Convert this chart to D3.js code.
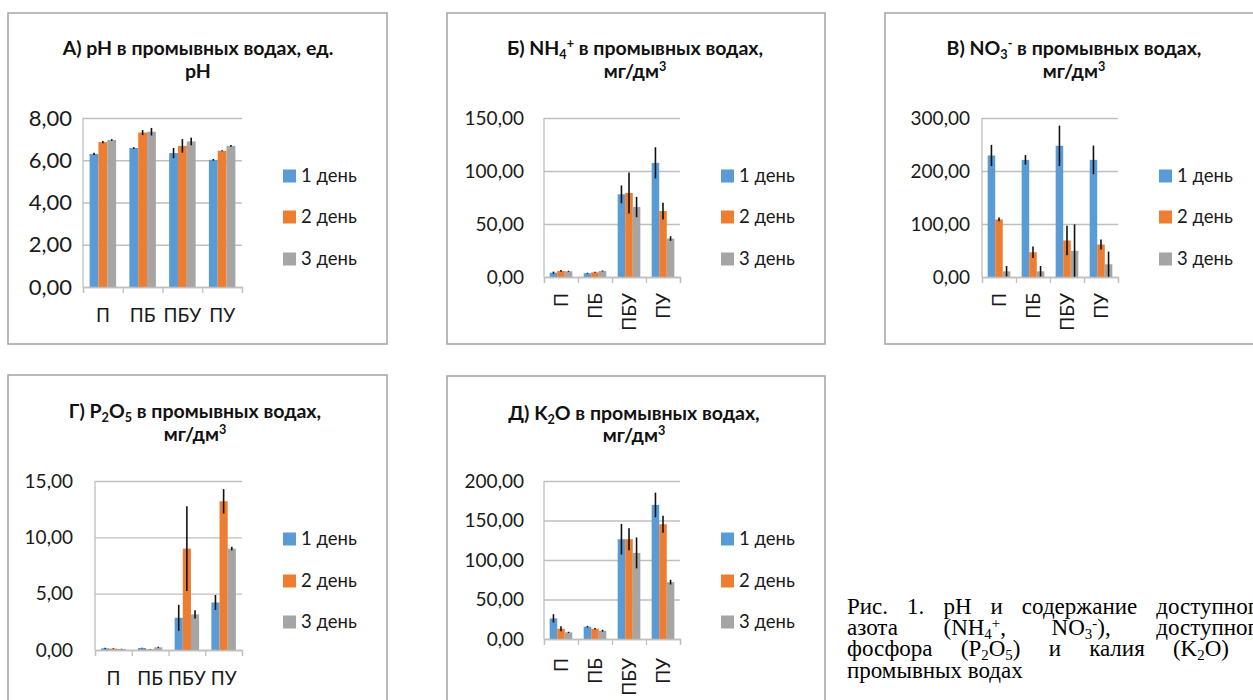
<!DOCTYPE html>
<html>
<head>
<meta charset="utf-8">
<script src="https://cdnjs.cloudflare.com/ajax/libs/d3/7.8.5/d3.min.js"></script>
<style>
  body { margin: 0; background: #fff; width: 1253px; height: 700px; overflow: hidden; position: relative; }
  svg { position: absolute; left: 0; top: 0; }
  .caption { position: absolute; font-family: "Liberation Serif", "Times New Roman", serif; color: #000; }
  .caption div { white-space: nowrap; }
  .caption .j { text-align: justify; text-align-last: justify; }
  .caption sub, .caption sup { font-size: 0.65em; line-height: 0; position: relative; vertical-align: baseline; }
  .caption sub { top: 0.25em; }
  .caption sup { top: -0.45em; }
</style>
</head>
<body>
<script>
// categories + series
var categories = ["П", "ПБ", "ПБУ", "ПУ"];
var days = ["1 день", "2 день", "3 день"];
var colors = ["#5B9BD5", "#ED7D31", "#A5A5A5"];

// А) pH  (rows = day 1..3, cols = categories)
var phMean = [[6.30, 6.58, 6.34, 6.02], [6.86, 7.31, 6.68, 6.45], [6.96, 7.35, 6.89, 6.68]];
var phErr  = [[0.05, 0.04, 0.24, 0.04], [0.05, 0.12, 0.32, 0.02], [0.04, 0.18, 0.18, 0.04]];
var phTicks = [0, 2, 4, 6, 8];

// Б) NH4+
var nh4Mean = [[4.1, 3.5, 78.0, 107.7], [5.7, 4.4, 79.3, 62.2], [5.4, 5.7, 66.0, 36.3]];
var nh4Err  = [[1.0, 0.5, 8.4, 14.7], [0.8, 0.5, 19.3, 7.9], [0.5, 0.5, 9.6, 2.2]];
var nh4Ticks = [0, 50, 100, 150];

// В) NO3-
var no3Mean = [[229.3, 221.0, 247.6, 221.0], [108.6, 46.7, 68.9, 61.3], [10.7, 10.7, 49.3, 24.0]];
var no3Err  = [[20, 9, 38, 27], [3.5, 11, 28, 9.5], [10, 10, 50, 24]];
var no3Ticks = [0, 100, 200, 300];

// Г) P2O5
var p2o5Mean = [[0.15, 0.18, 2.86, 4.22], [0.12, 0.05, 9.0, 13.2], [0.09, 0.24, 3.16, 9.0]];
var p2o5Err  = [[0.05, 0.03, 1.15, 0.66], [0.03, 0.02, 3.76, 1.08], [0.02, 0.05, 0.37, 0.16]];
var p2o5Ticks = [0, 5, 10, 15];

// Д) K2O
var k2oMean = [[26.1, 15.6, 126.3, 169.7], [13.0, 13.0, 126.3, 145.3], [8.4, 10.5, 109.0, 72.0]];
var k2oErr  = [[5.3, 1.0, 19.4, 15.6], [3.2, 1.0, 14.0, 10.7], [0.8, 1.2, 19.6, 3.0]];
var k2oTicks = [0, 50, 100, 150, 200];

// titles (s: sub / sup)
var titleA = [[{t: "А) pH в промывных водах, ед."}], [{t: "pH"}]];
var titleB = [[{t: "Б) NH"}, {t: "4", s: "sub"}, {t: "+", s: "sup"}, {t: " в промывных водах,"}], [{t: "мг/дм"}, {t: "3", s: "sup"}]];
var titleC = [[{t: "В) NO"}, {t: "3", s: "sub"}, {t: "-", s: "sup"}, {t: " в промывных водах,"}], [{t: "мг/дм"}, {t: "3", s: "sup"}]];
var titleD = [[{t: "Г) P"}, {t: "2", s: "sub"}, {t: "O"}, {t: "5", s: "sub"}, {t: " в промывных водах,"}], [{t: "мг/дм"}, {t: "3", s: "sup"}]];
var titleE = [[{t: "Д) K"}, {t: "2", s: "sub"}, {t: "O в промывных водах,"}], [{t: "мг/дм"}, {t: "3", s: "sup"}]];

var captionLines = [
  "Рис. 1. pH и содержание доступного",
  "азота (NH<sub>4</sub><sup>+</sup>, NO<sub>3</sub><sup>-</sup>), доступного",
  "фосфора (P<sub>2</sub>O<sub>5</sub>) и калия (K<sub>2</sub>O) в",
  "промывных водах"
];

// layout of each chart box
var panels = [
  {title: titleA, mean: phMean, err: phErr, ticks: phTicks,
   box: [8, 13, 379, 331], plot: [83, 118, 242, 287], tickFont: 22, tickPad: 11,
   rotate: false, labelOff: 35, legendX: 283, legendY: [176, 217, 259], titleX: 198, titleY: [55, 78]},
  {title: titleB, mean: nh4Mean, err: nh4Err, ticks: nh4Ticks,
   box: [447, 13, 378, 331], plot: [544, 118, 680, 277], tickFont: 19, tickPad: 20,
   rotate: true, labelOff: 16, legendX: 721, legendY: [176, 217, 259], titleX: 635, titleY: [55, 78]},
  {title: titleC, mean: no3Mean, err: no3Err, ticks: no3Ticks,
   box: [885, 13, 380, 331], plot: [982, 118, 1118, 277], tickFont: 19, tickPad: 12,
   rotate: true, labelOff: 16, legendX: 1159, legendY: [176, 217, 259], titleX: 1074, titleY: [55, 78]},
  {title: titleD, mean: p2o5Mean, err: p2o5Err, ticks: p2o5Ticks,
   box: [8, 375, 379, 340], plot: [95, 481, 242, 650], tickFont: 19, tickPad: 22,
   rotate: false, labelOff: 35, legendX: 283, legendY: [539, 581, 622], titleX: 195, titleY: [418, 441]},
  {title: titleE, mean: k2oMean, err: k2oErr, ticks: k2oTicks,
   box: [447, 376, 378, 340], plot: [544, 481, 680, 639], tickFont: 19, tickPad: 20,
   rotate: true, labelOff: 19, legendX: 721, legendY: [539, 581, 622], titleX: 634, titleY: [420, 442]}
];

var ru = d3.formatLocale({decimal: ",", thousands: " ", grouping: [3], currency: ["", ""]});
var fmt = ru.format(".2f");
var FONT = "Lato, Carlito, Calibri, sans-serif";

var svg = d3.select("body").append("svg")
  .attr("width", 1253)
  .attr("height", 700)
  .style("font-family", FONT);

panels.forEach(drawPanel);

function drawPanel(p) {
  var g = svg.append("g");

  // outer frame
  g.append("rect")
    .attr("x", p.box[0]).attr("y", p.box[1])
    .attr("width", p.box[2]).attr("height", p.box[3])
    .attr("fill", "#fff").attr("stroke", "#a3a3a3").attr("stroke-width", 1.5);

  drawTitle(g, p.title, p.titleX, p.titleY, 19.5);

  var left = p.plot[0], top = p.plot[1], right = p.plot[2], bottom = p.plot[3];
  var y = d3.scaleLinear().domain([0, d3.max(p.ticks)]).range([bottom, top]);
  var x0 = d3.scaleBand().domain(categories).range([left, right]).padding(0);
  var bw = x0.bandwidth() / 4.5; // excel gap width 150%
  var x1 = d3.scaleBand().domain(days).range([bw * 0.75, bw * 3.75]).padding(0);

  // gridlines + y labels
  var yAxis = g.append("g")
    .attr("transform", "translate(" + left + ",0)")
    .call(d3.axisLeft(y).tickValues(p.ticks).tickSize(-(right - left)).tickPadding(p.tickPad).tickFormat(fmt));
  yAxis.select(".domain").remove();
  yAxis.selectAll("line").attr("stroke", "#bfbfbf").attr("stroke-width", 1.3);
  yAxis.selectAll("text").attr("font-size", p.tickFont).attr("fill", "#1a1a1a").attr("font-family", FONT);

  // bars
  days.forEach(function(day, si) {
    g.append("g").selectAll("rect")
      .data(p.mean[si])
      .enter().append("rect")
        .attr("x", function(d, ci) { return x0(categories[ci]) + x1(day); })
        .attr("y", function(d) { return y(d); })
        .attr("width", x1.bandwidth())
        .attr("height", function(d) { return bottom - y(d); })
        .attr("fill", colors[si]);
  });

  // error bars
  days.forEach(function(day, si) {
    g.append("g").selectAll("line")
      .data(p.mean[si])
      .enter().append("line")
        .attr("x1", function(d, ci) { return x0(categories[ci]) + x1(day) + x1.bandwidth() / 2; })
        .attr("x2", function(d, ci) { return x0(categories[ci]) + x1(day) + x1.bandwidth() / 2; })
        .attr("y1", function(d, ci) { return y(d + p.err[si][ci]); })
        .attr("y2", function(d, ci) { return y(Math.max(0, d - p.err[si][ci])); })
        .attr("stroke", "#111").attr("stroke-width", 1.6);
  });

  // axis lines
  g.append("line")
    .attr("x1", left).attr("x2", left).attr("y1", top).attr("y2", bottom)
    .attr("stroke", "#bfbfbf").attr("stroke-width", 1.3);
  var xb = d3.scaleLinear().domain([0, categories.length]).range([left, right]);
  var xTicks = g.append("g")
    .attr("transform", "translate(0," + bottom + ")")
    .call(d3.axisBottom(xb).tickValues(d3.range(categories.length + 1)).tickSize(6).tickFormat(""));
  xTicks.selectAll("line,path").attr("stroke", "#bfbfbf").attr("stroke-width", 1.3);

  // category labels
  g.append("g").selectAll("text")
    .data(categories)
    .enter().append("text")
      .attr("font-size", 19)
      .attr("fill", "#1a1a1a")
      .attr("transform", function(d) {
        var cx = x0(d) + x0.bandwidth() / 2;
        return p.rotate ? "translate(" + cx + "," + (bottom + p.labelOff) + ") rotate(-90)"
                        : "translate(" + cx + "," + (bottom + p.labelOff) + ")";
      })
      .attr("text-anchor", p.rotate ? "end" : "middle")
      .attr("dy", p.rotate ? "0.35em" : 0)
      .text(function(d) { return d; });

  // legend
  var lg = g.append("g").selectAll("g")
    .data(days)
    .enter().append("g")
      .attr("transform", function(d, i) { return "translate(" + p.legendX + "," + p.legendY[i] + ")"; });
  lg.append("rect")
    .attr("x", 0).attr("y", -6.5).attr("width", 13).attr("height", 13)
    .attr("fill", function(d, i) { return colors[i]; });
  lg.append("text")
    .attr("x", 18).attr("dy", "0.35em")
    .attr("font-size", 18.5).attr("fill", "#1a1a1a")
    .text(function(d) { return d; });
}

function drawTitle(g, lines, cx, ys, size) {
  var t = g.append("text")
    .attr("text-anchor", "middle")
    .attr("font-weight", "bold")
    .attr("font-size", size)
    .attr("fill", "#111");
  lines.forEach(function(line, i) {
    var shift = 0;
    line.forEach(function(seg, j) {
      var ts = t.append("tspan").text(seg.t);
      if (j === 0) ts.attr("x", cx).attr("y", ys[i]);
      var target = seg.s === "sub" ? size * 0.22 : (seg.s === "sup" ? -size * 0.38 : 0);
      if (j > 0 && target !== shift) ts.attr("dy", target - shift);
      if (seg.s) ts.attr("font-size", size * 0.65);
      shift = target;
    });
  });
}

// caption (justified paragraph, runs off the right edge)
var cap = d3.select("body").append("div")
  .attr("class", "caption")
  .style("left", "847px")
  .style("top", "596px")
  .style("width", "421px")
  .style("font-size", "23px")
  .style("line-height", "21.2px");
cap.selectAll("div")
  .data(captionLines)
  .enter().append("div")
    .attr("class", function(d, i) { return i < captionLines.length - 1 ? "j" : null; })
    .html(function(d) { return d; });
</script>
</body>
</html>
